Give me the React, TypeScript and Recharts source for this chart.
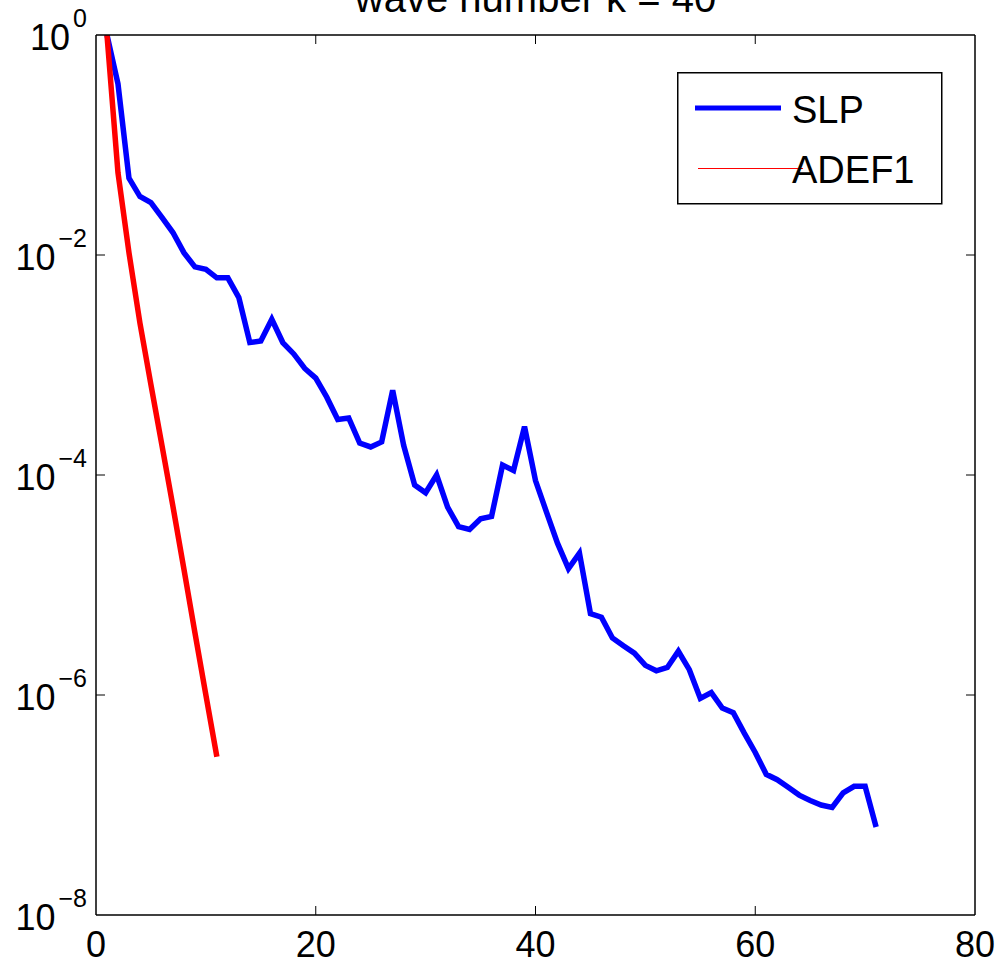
import { Label, Legend, Line, LineChart, XAxis, YAxis } from "recharts";

const kSlp = [
  1, 2, 3, 4, 5, 6, 7, 8, 9, 10, 11, 12, 13, 14, 15, 16, 17, 18, 19, 20,
  21, 22, 23, 24, 25, 26, 27, 28, 29, 30, 31, 32, 33, 34, 35, 36, 37, 38, 39, 40,
  41, 42, 43, 44, 45, 46, 47, 48, 49, 50, 51, 52, 53, 54, 55, 56, 57, 58, 59, 60,
  61, 62, 63, 64, 65, 66, 67, 68, 69, 70, 71,
];
const slpValues = [
  1, 3.6e-1, 5.0e-2, 3.4e-2, 3.0e-2, 2.2e-2, 1.6e-2, 1.05e-2, 7.8e-3, 7.4e-3,
  6.2e-3, 6.2e-3, 4.1e-3, 1.6e-3, 1.65e-3, 2.6e-3, 1.6e-3, 1.26e-3, 9.3e-4, 7.6e-4,
  5.1e-4, 3.2e-4, 3.3e-4, 1.95e-4, 1.8e-4, 2.0e-4, 5.9e-4, 1.86e-4, 8.1e-5, 6.9e-5,
  1.0e-4, 5.1e-5, 3.4e-5, 3.2e-5, 4.0e-5, 4.2e-5, 1.23e-4, 1.1e-4, 2.75e-4, 8.9e-5,
  4.6e-5, 2.4e-5, 1.41e-5, 1.95e-5, 5.5e-6, 5.1e-6, 3.3e-6, 2.8e-6, 2.4e-6, 1.86e-6,
  1.66e-6, 1.78e-6, 2.5e-6, 1.7e-6, 9.3e-7, 1.05e-6, 7.6e-7, 6.9e-7, 4.5e-7, 3.0e-7,
  1.9e-7, 1.7e-7, 1.45e-7, 1.23e-7, 1.1e-7, 1.0e-7, 9.5e-8, 1.29e-7, 1.48e-7, 1.48e-7,
  6.3e-8,
];
const kAdef = [1, 2, 3, 4, 5, 6, 7, 8, 9, 10, 11];
const adefValues = [1, 5.6e-2, 1.05e-2, 2.4e-3, 6.6e-4, 1.86e-4, 5.2e-5, 1.4e-5, 3.7e-6, 1.0e-6, 2.75e-7];

const xTicks = [0, 20, 40, 60, 80];
const yTicks = [1e-8, 1e-6, 1e-4, 1e-2, 1];

const slpData = kSlp.map((k, i) => ({ k, v: slpValues[i] }));
const adefData = kAdef.map((k, i) => ({ k, v: adefValues[i] }));

const FONT = "'Liberation Sans', Arial, Helvetica, sans-serif";
const TICK_LEN = 9;

// inward tick marks, MATLAB style
function BottomTick({ x, y, payload }: any) {
  const edge = payload.value === 0 || payload.value === 80;
  return (
    <g>
      {!edge && <line x1={x} x2={x} y1={y} y2={y - TICK_LEN} stroke="#000" strokeWidth={1} />}
      <text x={x} y={y + 42} textAnchor="middle" fontSize={36} fontFamily={FONT} fill="#000">
        {payload.value}
      </text>
    </g>
  );
}

function TopTick({ x, y, payload }: any) {
  if (payload.value === 0 || payload.value === 80) return <g />;
  return <line x1={x} x2={x} y1={y} y2={y + TICK_LEN} stroke="#000" strokeWidth={1} />;
}

function LeftTick({ x, y, payload }: any) {
  const exp = Math.round(Math.log10(payload.value));
  const edge = exp === 0 || exp === -8;
  const sup = exp < 0 ? `\u2212${-exp}` : `${exp}`;
  return (
    <g>
      {!edge && <line x1={x} x2={x + TICK_LEN} y1={y} y2={y} stroke="#000" strokeWidth={1} />}
      <text x={x - 9} y={y + 15} textAnchor="end" fontFamily={FONT} fill="#000">
        <tspan fontSize={36}>10</tspan>
        <tspan fontSize={25} dx={3} dy={-23}>{sup}</tspan>
      </text>
    </g>
  );
}

function RightTick({ x, y, payload }: any) {
  const exp = Math.round(Math.log10(payload.value));
  if (exp === 0 || exp === -8) return <g />;
  return <line x1={x} x2={x - TICK_LEN} y1={y} y2={y} stroke="#000" strokeWidth={1} />;
}

function LegendBox() {
  return (
    <svg width={266} height={134} style={{ display: "block" }}>
      <rect x={0.75} y={0.75} width={264} height={131} fill="#fff" stroke="#000" strokeWidth={1.5} />
      <line x1={18} x2={104} y1={36} y2={36} stroke="#0000ff" strokeWidth={5} />
      <text x={115} y={51} fontSize={38} fontFamily={FONT} fill="#000">SLP</text>
      <line x1={21} x2={126} y1={96.5} y2={96.5} stroke="#ff0000" strokeWidth={1} shapeRendering="crispEdges" />
      <text x={115} y={111} fontSize={38} fontFamily={FONT} fill="#000">ADEF1</text>
    </svg>
  );
}

export default function App() {
  const axisLine = { stroke: "#000", strokeWidth: 1.5 };
  return (
    <div style={{ position: "absolute", left: 0, top: 0, background: "#fff" }}>
      <LineChart width={998} height={965} margin={{ top: 34, right: 22, bottom: 0, left: 0 }}>
        <XAxis
          xAxisId={0}
          dataKey="k"
          type="number"
          domain={[0, 80]}
          ticks={xTicks}
          height={50}
          tickSize={0}
          tickMargin={0}
          tickLine={false}
          axisLine={axisLine}
          tick={<BottomTick />}
          allowDataOverflow
        />
        <XAxis
          xAxisId="top"
          orientation="top"
          dataKey="k"
          type="number"
          domain={[0, 80]}
          ticks={xTicks}
          height={1}
          tickSize={0}
          tickMargin={0}
          tickLine={false}
          axisLine={axisLine}
          tick={<TopTick />}
          allowDataOverflow
        >
          <Label value="wave number k = 40" position="top" offset={22} fontSize={40} fontFamily={FONT} fill="#000" />
        </XAxis>
        <YAxis
          yAxisId={0}
          type="number"
          scale="log"
          domain={[1e-8, 1]}
          ticks={yTicks}
          width={96}
          tickSize={0}
          tickMargin={0}
          tickLine={false}
          axisLine={axisLine}
          tick={<LeftTick />}
          allowDataOverflow
        />
        <YAxis
          yAxisId="right"
          orientation="right"
          type="number"
          scale="log"
          domain={[1e-8, 1]}
          ticks={yTicks}
          width={1}
          tickSize={0}
          tickMargin={0}
          tickLine={false}
          axisLine={axisLine}
          tick={<RightTick />}
          allowDataOverflow
        />
        <Legend
          layout="vertical"
          align="center"
          verticalAlign="middle"
          content={<LegendBox />}
          wrapperStyle={{ left: 677, top: 72, width: 266, height: 134 }}
        />
        {/* invisible copy so the frame axes (top/right) have data bound to them */}
        <Line
          data={slpData}
          dataKey="v"
          xAxisId="top"
          yAxisId="right"
          stroke="none"
          dot={false}
          legendType="none"
          isAnimationActive={false}
        />
        <Line
          data={slpData}
          dataKey="v"
          name="SLP"
          stroke="#0000ff"
          strokeWidth={5.5}
          dot={false}
          isAnimationActive={false}
        />
        <Line
          data={adefData}
          dataKey="v"
          name="ADEF1"
          stroke="#ff0000"
          strokeWidth={5.5}
          dot={false}
          isAnimationActive={false}
        />
      </LineChart>
    </div>
  );
}
